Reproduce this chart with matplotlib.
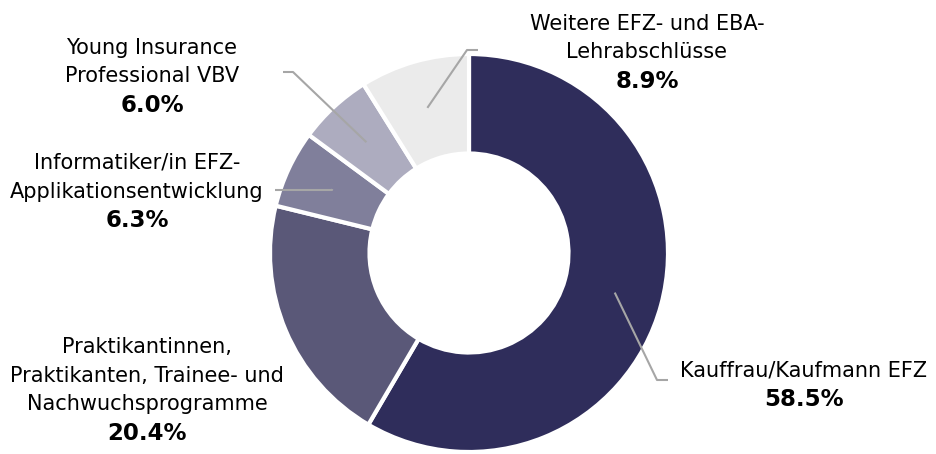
import matplotlib.pyplot as plt
import numpy as np

labels = ['Kauffrau/Kaufmann EFZ',
          'Praktikantinnen,\nPraktikanten, Trainee- und\nNachwuchsprogramme',
          'Informatiker/in EFZ-\nApplikationsentwicklung',
          'Young Insurance\nProfessional VBV',
          'Weitere EFZ- und EBA-\nLehrabschlüsse']
shares = [58.5, 20.4, 6.3, 6.0, 8.9]
colors = ['#2f2d5b', '#5a5878', '#807f9b', '#adacbf', '#ebebeb']

W, H = 936, 454
cx, cy, R = 469, 253, 199

fig = plt.figure(figsize=(W / 100, H / 100), dpi=100)
ax = fig.add_axes([0, 0, 1, 1])

wedges, _ = ax.pie(shares, colors=colors, startangle=90, counterclock=False,
                   center=(cx, H - cy), radius=R,
                   wedgeprops=dict(width=R * 0.5, edgecolor='white', linewidth=3))
ax.set_xlim(0, W)
ax.set_ylim(0, H)
ax.set_aspect('equal')
ax.axis('off')

# label anchors (pixel coords, top-left origin): text centre x, first line y, elbow, end
label_pos = [
    (804, 368, (657, 380), (668, 380)),
    (147, 345, None, None),
    (137, 161, (332, 190), (275, 190)),
    (152, 46, (293, 72), (283, 72)),
    (647, 22, (467, 50), (478, 50)),
]

fs = 15
line_h = 28.5
for w, lab, val, (tx, ty, elbow, end) in zip(wedges, labels, shares, label_pos):
    lines = lab.split('\n')
    for i, line in enumerate(lines):
        ax.text(tx, H - (ty + i * line_h), line, ha='center', va='center_baseline',
                fontsize=fs, color='black')
    ax.text(tx, H - (ty + len(lines) * line_h), f'{val:.1f}%', ha='center',
            va='center_baseline', fontsize=16.5, fontweight='bold', color='black')
    if elbow is not None:
        ang = np.deg2rad((w.theta1 + w.theta2) / 2)
        sx = cx + 151 * np.cos(ang)
        sy = cy - 151 * np.sin(ang)
        ax.plot([sx, elbow[0], end[0]], [H - sy, H - elbow[1], H - end[1]],
                color='#a6a6a6', lw=1.5, solid_capstyle='butt')

fig.savefig('out.png', dpi=100)
